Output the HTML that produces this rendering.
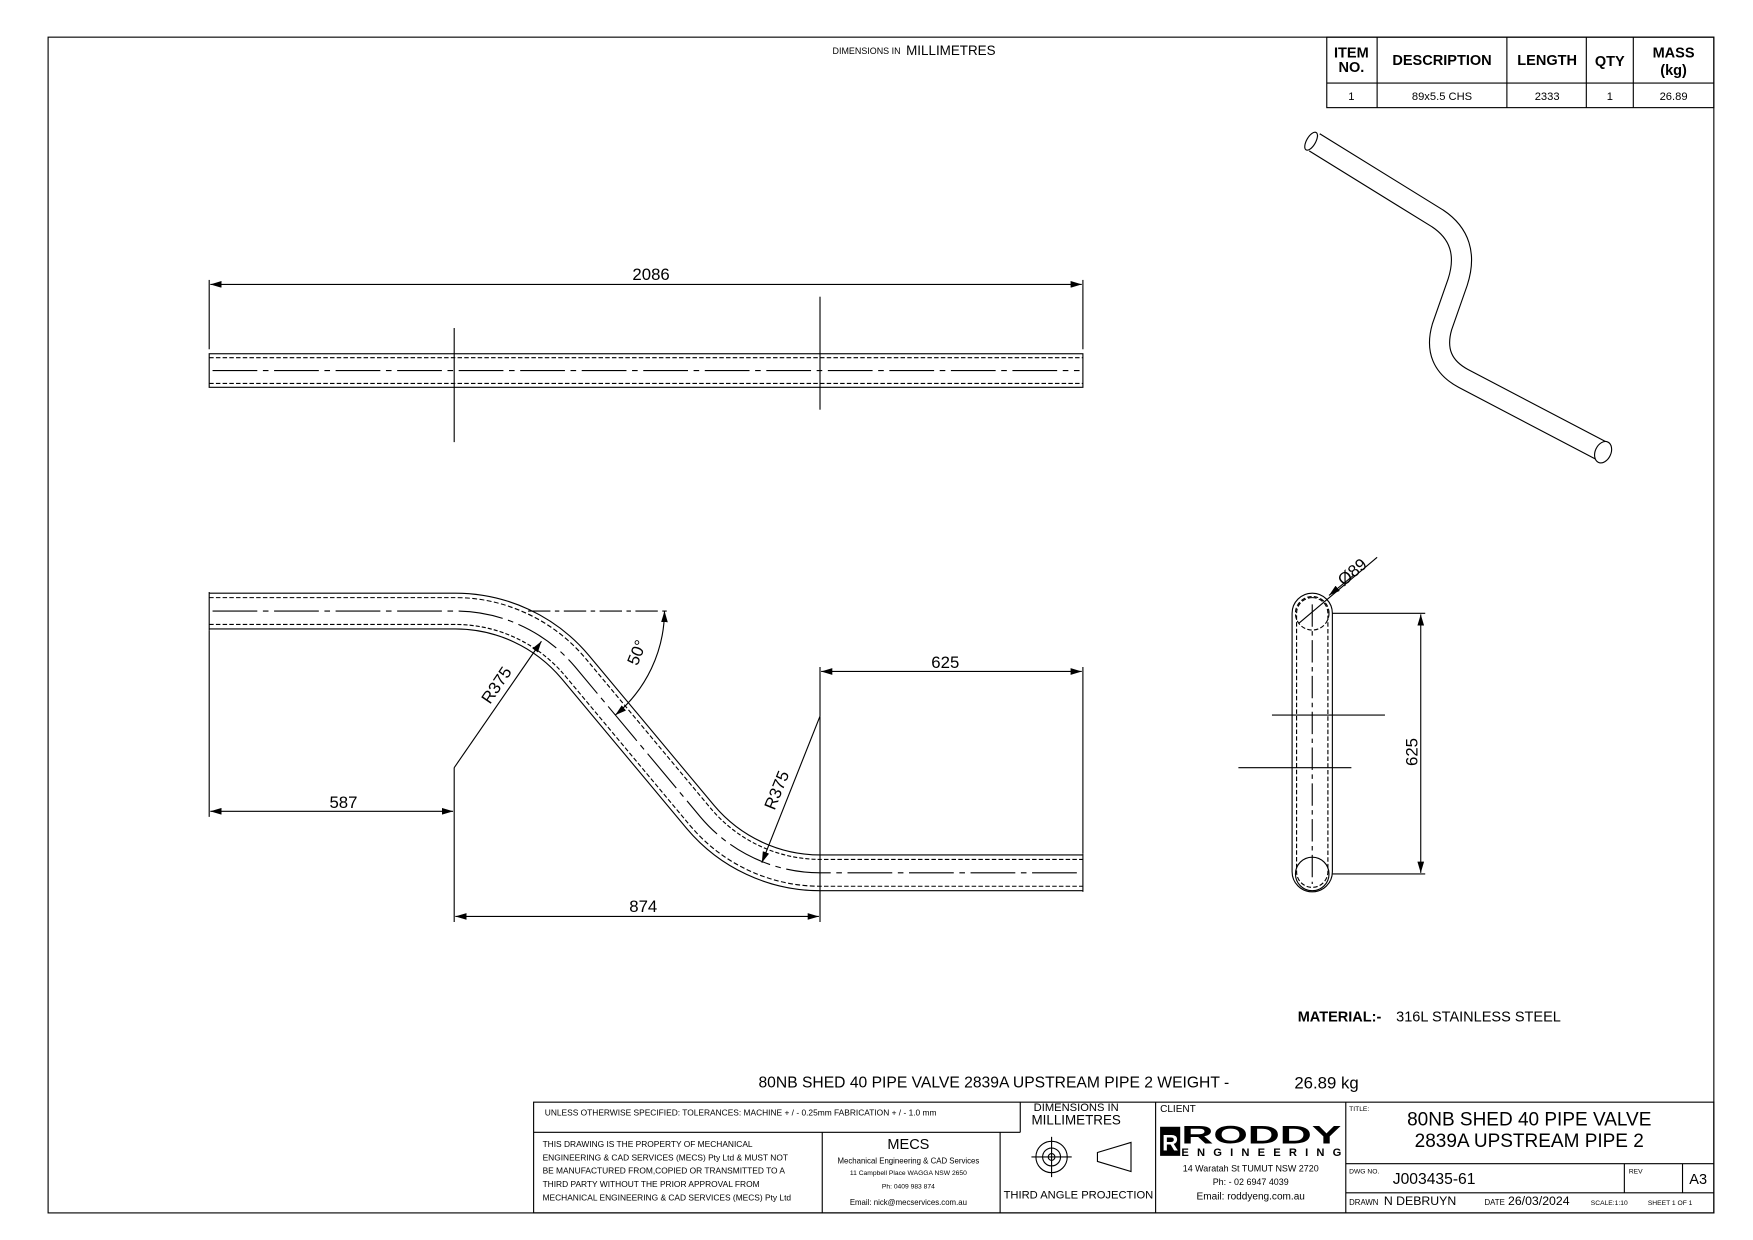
<!DOCTYPE html>
<html><head><meta charset="utf-8"><style>
html,body{margin:0;padding:0;background:#fff;}
svg{display:block;font-family:"Liberation Sans",sans-serif;}
</style></head><body>
<svg width="1753" height="1240" viewBox="0 0 1567 1108" xmlns="http://www.w3.org/2000/svg">
<defs>
<marker id="a" markerWidth="10" markerHeight="6" refX="10" refY="3" orient="auto-start-reverse" markerUnits="userSpaceOnUse"><path d="M0,0 L10,3 L0,6z" fill="#000"/></marker>
</defs>
<rect x="43" y="33" width="1489" height="1051" fill="none" stroke="#000" stroke-width="1"/>
<text x="805" y="48" font-size="8" text-anchor="end">DIMENSIONS IN</text>
<text x="810" y="49" font-size="12">MILLIMETRES</text>

<!-- BOM -->
<g stroke="#000" fill="none" stroke-width="1">
<rect x="1186" y="33" width="346" height="63"/>
<line x1="1186" y1="74" x2="1532" y2="74"/>
<line x1="1231" y1="33" x2="1231" y2="96"/><line x1="1347" y1="33" x2="1347" y2="96"/>
<line x1="1418" y1="33" x2="1418" y2="96"/><line x1="1460" y1="33" x2="1460" y2="96"/>
</g>
<g font-size="13" font-weight="bold" text-anchor="middle">
<text x="1208" y="51">ITEM</text><text x="1208" y="64">NO.</text>
<text x="1289" y="58">DESCRIPTION</text><text x="1383" y="58">LENGTH</text><text x="1439" y="59">QTY</text>
<text x="1496" y="51">MASS</text><text x="1496" y="67">(kg)</text>
</g>
<g font-size="10" text-anchor="middle">
<text x="1208" y="89">1</text><text x="1289" y="89">89x5.5 CHS</text><text x="1383" y="89">2333</text><text x="1439" y="89">1</text><text x="1496" y="89">26.89</text>
</g>

<!-- top view -->
<g stroke="#000" fill="none" stroke-width="1">
<rect x="187" y="316" width="781" height="30"/>
<line x1="187" y1="319.5" x2="968" y2="319.5" stroke-dasharray="4,2"/>
<line x1="187" y1="342.5" x2="968" y2="342.5" stroke-dasharray="4,2"/>
<line x1="190" y1="331" x2="965" y2="331" stroke-dasharray="40,5,5,5"/>
<line x1="406" y1="293" x2="406" y2="395"/>
<line x1="733" y1="265" x2="733" y2="366"/>
<line x1="187" y1="250" x2="187" y2="312"/><line x1="968" y1="250" x2="968" y2="312"/>
<line x1="188" y1="254" x2="967" y2="254" marker-start="url(#a)" marker-end="url(#a)"/>
</g>
<text x="582" y="250" font-size="15" text-anchor="middle">2086</text>

<!-- front view -->
<g fill="none">
<path d="M187 546 L407 546 A140 140 0 0 1 514.2 596 L626.2 730.2 A140 140 0 0 0 733 780 L968 780" stroke="#000" stroke-width="33"/>
<path d="M187 546 L407 546 A140 140 0 0 1 514.2 596 L626.2 730.2 A140 140 0 0 0 733 780 L968 780" stroke="#fff" stroke-width="31"/>
<path d="M187 546 L407 546 A140 140 0 0 1 514.2 596 L626.2 730.2 A140 140 0 0 0 733 780 L968 780" stroke="#000" stroke-width="25" stroke-dasharray="4,2"/>
<path d="M187 546 L407 546 A140 140 0 0 1 514.2 596 L626.2 730.2 A140 140 0 0 0 733 780 L968 780" stroke="#fff" stroke-width="23"/>
<path d="M190 546 L407 546 A140 140 0 0 1 514.2 596 L626.2 730.2 A140 140 0 0 0 733 780 L965 780" stroke="#000" stroke-width="1" stroke-dasharray="40,5,5,5"/>
</g>
<g stroke="#000" fill="none" stroke-width="1">
<line x1="187" y1="529" x2="187" y2="563"/><line x1="968" y1="763" x2="968" y2="797"/>
<line x1="187" y1="563" x2="187" y2="730"/>
<line x1="406" y1="686" x2="406" y2="824"/>
<line x1="733" y1="640" x2="733" y2="824"/>
<line x1="968" y1="596" x2="968" y2="763"/>
<line x1="733" y1="596" x2="733" y2="640"/>
<line x1="188" y1="725" x2="405" y2="725" marker-start="url(#a)" marker-end="url(#a)"/>
<line x1="407" y1="819" x2="732" y2="819" marker-start="url(#a)" marker-end="url(#a)"/>
<line x1="734" y1="600" x2="967" y2="600" marker-start="url(#a)" marker-end="url(#a)"/>
<line x1="406" y1="686" x2="484" y2="573" marker-end="url(#a)"/>
<line x1="733" y1="640" x2="681" y2="771" marker-end="url(#a)"/>
<line x1="472" y1="546" x2="596" y2="546" stroke-dasharray="20,4,4,4"/>
<path d="M594 546 A122 122 0 0 1 550 639" marker-start="url(#a)" marker-end="url(#a)"/>
</g>
<g font-size="15" text-anchor="middle">
<text x="307" y="722">587</text><text x="575" y="815">874</text><text x="845" y="597">625</text>
<text transform="translate(448,615) rotate(-56)">R375</text>
<text transform="translate(699,708) rotate(-68)">R375</text>
<text transform="translate(574,585) rotate(-68)">50°</text>
</g>

<!-- side view -->
<g stroke="#000" fill="none" stroke-width="1">
<rect x="1155" y="530" width="36" height="267" rx="18"/>
<rect x="1159" y="534" width="28" height="259" rx="14" stroke-dasharray="4,2"/>
<circle cx="1173" cy="548" r="15" stroke-dasharray="4,2"/>
<circle cx="1173" cy="781" r="15"/>
<line x1="1173" y1="540" x2="1173" y2="790" stroke-dasharray="20,4,4,4"/>
<line x1="1137" y1="639" x2="1238" y2="639"/>
<line x1="1107" y1="686" x2="1208" y2="686"/>
<line x1="1191" y1="548" x2="1274" y2="548"/><line x1="1191" y1="781" x2="1274" y2="781"/>
<line x1="1270" y1="549" x2="1270" y2="780" marker-start="url(#a)" marker-end="url(#a)"/>
<line x1="1161" y1="557" x2="1231" y2="498"/>
<line x1="1210" y1="514" x2="1188" y2="532" marker-end="url(#a)"/>
</g>
<text transform="translate(1267,672) rotate(-90)" font-size="15" text-anchor="middle">625</text>
<text transform="translate(1212,515) rotate(-40)" font-size="15" text-anchor="middle">Ø89</text>

<!-- iso -->
<path d="M1175 127 L1285 195 Q1315 215 1303 252 L1289 292 Q1280 323 1308 338 L1432 403" fill="none" stroke="#000" stroke-width="19"/>
<path d="M1175 127 L1285 195 Q1315 215 1303 252 L1289 292 Q1280 323 1308 338 L1432 403" fill="none" stroke="#fff" stroke-width="17"/>
<ellipse cx="1172" cy="126" rx="4" ry="9" transform="rotate(30 1172 126)" fill="#fff" stroke="#000"/>
<ellipse cx="1433" cy="404" rx="7" ry="10" transform="rotate(25 1433 404)" fill="#fff" stroke="#000"/>

<text x="1160" y="913" font-size="13" font-weight="bold">MATERIAL:-</text>
<text x="1248" y="913" font-size="13">316L STAINLESS STEEL</text>
<text x="678" y="972" font-size="14">80NB SHED 40 PIPE VALVE 2839A UPSTREAM PIPE 2 WEIGHT -</text>
<text x="1157" y="973" font-size="15">26.89 kg</text>

<!-- title block -->
<g stroke="#000" fill="none" stroke-width="1">
<rect x="477" y="985" width="1055" height="99"/>
<line x1="477" y1="1012" x2="912" y2="1012"/>
<line x1="912" y1="985" x2="912" y2="1012"/>
<line x1="735" y1="1012" x2="735" y2="1084"/>
<line x1="894" y1="1012" x2="894" y2="1084"/>
<line x1="1033" y1="985" x2="1033" y2="1084"/>
<line x1="1203" y1="985" x2="1203" y2="1084"/>
<line x1="1203" y1="1040" x2="1532" y2="1040"/>
<line x1="1203" y1="1066" x2="1532" y2="1066"/>
<line x1="1452" y1="1040" x2="1452" y2="1066"/>
<line x1="1504" y1="1040" x2="1504" y2="1066"/>
<circle cx="940" cy="1034" r="14"/><circle cx="940" cy="1034" r="8"/><circle cx="940" cy="1034" r="3"/>
<line x1="922" y1="1034" x2="958" y2="1034"/><line x1="940" y1="1016" x2="940" y2="1052"/>
<path d="M981 1030 L1011 1021 L1011 1047 L981 1038 Z"/>
</g>
<g font-size="7.5">
<text x="487" y="997">UNLESS OTHERWISE SPECIFIED: TOLERANCES: MACHINE + / - 0.25mm  FABRICATION + / - 1.0 mm</text>
<text x="485" y="1025">THIS DRAWING IS THE PROPERTY OF MECHANICAL</text>
<text x="485" y="1037">ENGINEERING &amp; CAD SERVICES (MECS) Pty Ltd &amp; MUST NOT</text>
<text x="485" y="1049">BE MANUFACTURED FROM,COPIED OR TRANSMITTED TO A</text>
<text x="485" y="1061">THIRD PARTY WITHOUT THE PRIOR APPROVAL FROM</text>
<text x="485" y="1073">MECHANICAL ENGINEERING &amp; CAD SERVICES (MECS) Pty Ltd</text>
<text x="1206" y="993" font-size="6">TITLE:</text>
<text x="1206" y="1049" font-size="6">DWG NO.</text>
<text x="1456" y="1049" font-size="6">REV</text>
<text x="1206" y="1077" font-size="7">DRAWN</text>
<text x="1037" y="994" font-size="9">CLIENT</text>
</g>
<g text-anchor="middle">
<text x="962" y="993" font-size="10">DIMENSIONS IN</text>
<text x="962" y="1005" font-size="12">MILLIMETRES</text>
<text x="812" y="1027" font-size="13">MECS</text>
<text x="812" y="1040" font-size="7">Mechanical Engineering &amp; CAD Services</text>
<text x="812" y="1050" font-size="6">11 Campbell Place WAGGA NSW 2650</text>
<text x="812" y="1062" font-size="6">Ph: 0409 983 874</text>
<text x="812" y="1077" font-size="7">Email: nick@mecservices.com.au</text>
<text x="964" y="1071" font-size="10">THIRD ANGLE PROJECTION</text>
<text x="1118" y="1047" font-size="8">14 Waratah St TUMUT NSW 2720</text>
<text x="1118" y="1059" font-size="8">Ph: - 02 6947 4039</text>
<text x="1118" y="1072" font-size="9">Email: roddyeng.com.au</text>
<text x="1367" y="1006" font-size="17">80NB SHED 40 PIPE VALVE</text>
<text x="1367" y="1025" font-size="17">2839A UPSTREAM PIPE 2</text>
</g>
<rect x="1037" y="1007" width="18" height="26" fill="#000"/>
<text x="1046" y="1028" font-size="20" font-weight="bold" fill="#fff" text-anchor="middle">R</text>
<text x="1056" y="1022" font-size="22" font-weight="bold" textLength="143" lengthAdjust="spacingAndGlyphs">RODDY</text>
<text x="1056" y="1033" font-size="10" font-weight="bold" textLength="143" lengthAdjust="spacing">ENGINEERING</text>
<text x="1245" y="1058" font-size="14">J003435-61</text>
<text x="1518" y="1058" font-size="13" text-anchor="middle">A3</text>
<text x="1237" y="1077" font-size="11">N DEBRUYN</text>
<text x="1327" y="1077" font-size="7">DATE</text>
<text x="1348" y="1077" font-size="11">26/03/2024</text>
<text x="1422" y="1077" font-size="6">SCALE:1:10</text>
<text x="1473" y="1077" font-size="6">SHEET 1 OF 1</text>
</svg>
</body></html>
